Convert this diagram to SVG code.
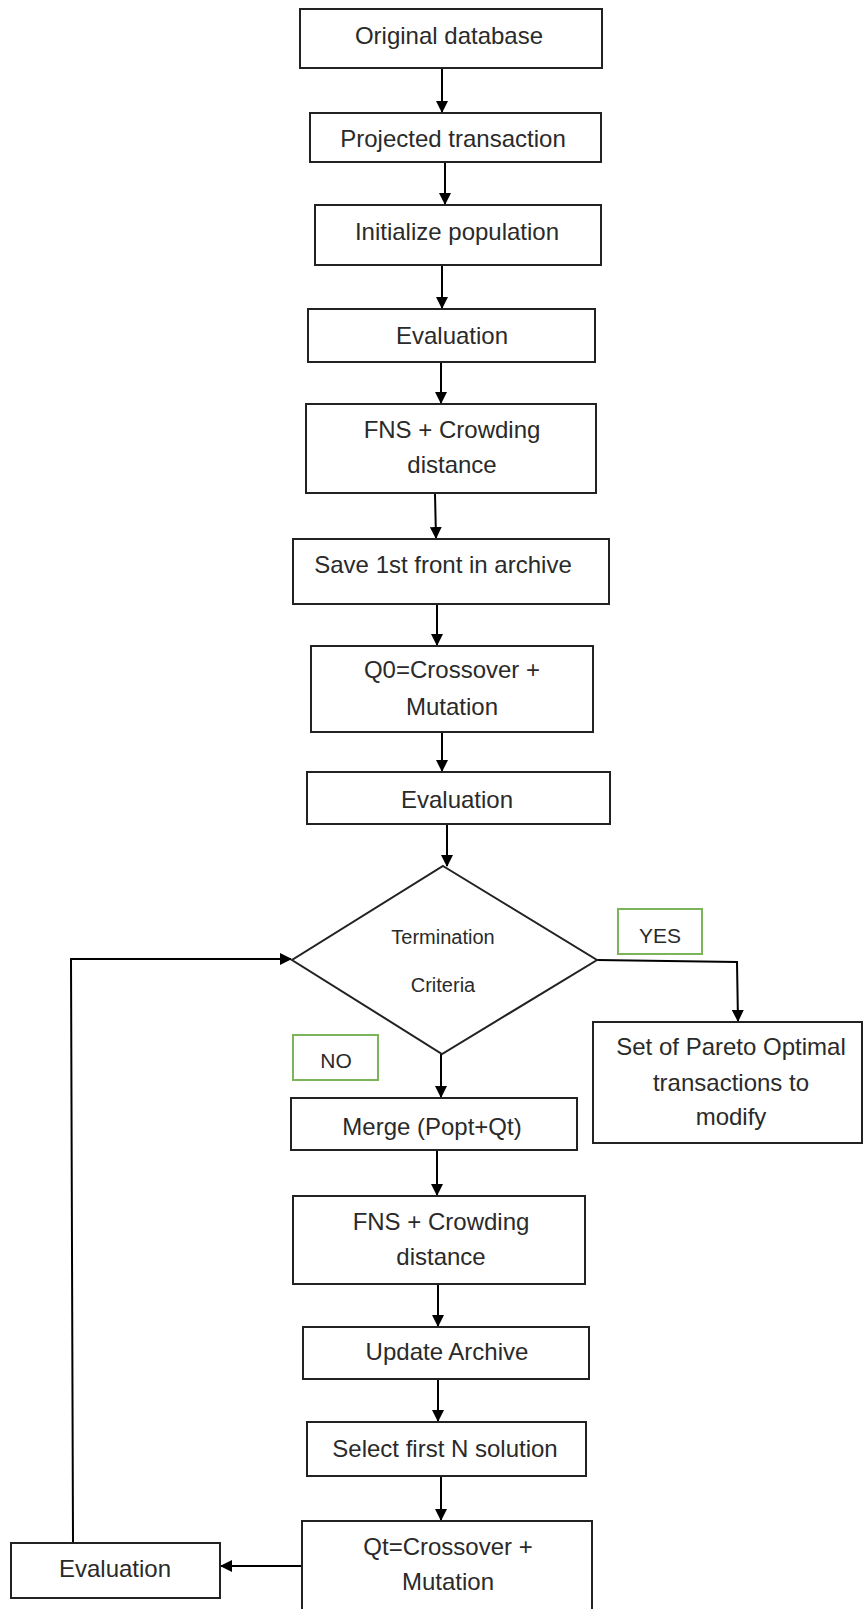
<svg xmlns="http://www.w3.org/2000/svg" width="863" height="1609" viewBox="0 0 863 1609">
<defs>
<style>
.box{fill:#fff;stroke:#222;stroke-width:2}
.lbl{fill:#fff;stroke:#7cb45c;stroke-width:2}
.t{font-family:"Liberation Sans",Arial,sans-serif;font-size:24px;fill:#2a2a2a;text-anchor:middle}
.s{font-size:20px}
.y{font-size:21px}
.c{fill:none;stroke:#000;stroke-width:2}
</style>
<marker id="ah" markerUnits="userSpaceOnUse" markerWidth="12" markerHeight="12" refX="11" refY="6" orient="auto">
<path d="M0,0 L12,6 L0,12 z" fill="#000"/>
</marker>
</defs>
<rect width="863" height="1609" fill="#fff"/>
<g id="connectors">
<path class="c" marker-end="url(#ah)" d="M442,69 L442,112"/>
<path class="c" marker-end="url(#ah)" d="M445,163 L445,204"/>
<path class="c" marker-end="url(#ah)" d="M442,266 L442,308"/>
<path class="c" marker-end="url(#ah)" d="M441,363 L441,403"/>
<path class="c" marker-end="url(#ah)" d="M435,494 L436,538"/>
<path class="c" marker-end="url(#ah)" d="M437,605 L437,645"/>
<path class="c" marker-end="url(#ah)" d="M442,733 L442,771"/>
<path class="c" marker-end="url(#ah)" d="M447,825 L447,866"/>
<path class="c" marker-end="url(#ah)" d="M441,1054 L441,1097"/>
<path class="c" marker-end="url(#ah)" d="M597,960 L737,962 L738,1021"/>
<path class="c" marker-end="url(#ah)" d="M437,1151 L437,1195"/>
<path class="c" marker-end="url(#ah)" d="M438,1285 L438,1326"/>
<path class="c" marker-end="url(#ah)" d="M438,1380 L438,1421"/>
<path class="c" marker-end="url(#ah)" d="M441,1477 L441,1520"/>
<path class="c" marker-end="url(#ah)" d="M301,1566 L221,1566"/>
<path class="c" marker-end="url(#ah)" d="M73,1543 L71,959 L291,959"/>
</g>
<g id="n1"><rect class="box" x="300" y="9" width="302" height="59"/><text class="t" x="449" y="44">Original database</text></g>
<g id="n2"><rect class="box" x="310" y="113" width="291" height="49"/><text class="t" x="453" y="147">Projected transaction</text></g>
<g id="n3"><rect class="box" x="315" y="205" width="286" height="60"/><text class="t" x="457" y="240">Initialize population</text></g>
<g id="n4"><rect class="box" x="308" y="309" width="287" height="53"/><text class="t" x="452" y="344">Evaluation</text></g>
<g id="n5"><rect class="box" x="306" y="404" width="290" height="89"/><text class="t" x="452" y="438">FNS + Crowding</text><text class="t" x="452" y="473">distance</text></g>
<g id="n6"><rect class="box" x="293" y="539" width="316" height="65"/><text class="t" x="443" y="573">Save 1st front in archive</text></g>
<g id="n7"><rect class="box" x="311" y="646" width="282" height="86"/><text class="t" x="452" y="678">Q0=Crossover +</text><text class="t" x="452" y="715">Mutation</text></g>
<g id="n8"><rect class="box" x="307" y="772" width="303" height="52"/><text class="t" x="457" y="808">Evaluation</text></g>
<g id="n9"><path class="box" d="M443,866 L597,960 L442,1054 L292,960 Z"/><text class="t s" x="443" y="944">Termination</text><text class="t s" x="443" y="992">Criteria</text></g>
<g id="yes"><rect class="lbl" x="618" y="909" width="84" height="45"/><text class="t y" x="660" y="943">YES</text></g>
<g id="no"><rect class="lbl" x="293" y="1035" width="85" height="45"/><text class="t y" x="336" y="1068">NO</text></g>
<g id="n10"><rect class="box" x="593" y="1022" width="269" height="121"/><text class="t" x="731" y="1055">Set of Pareto Optimal</text><text class="t" x="731" y="1091">transactions to</text><text class="t" x="731" y="1125">modify</text></g>
<g id="n11"><rect class="box" x="291" y="1098" width="286" height="52"/><text class="t" x="432" y="1135">Merge (Popt+Qt)</text></g>
<g id="n12"><rect class="box" x="293" y="1196" width="292" height="88"/><text class="t" x="441" y="1230">FNS + Crowding</text><text class="t" x="441" y="1265">distance</text></g>
<g id="n13"><rect class="box" x="303" y="1327" width="286" height="52"/><text class="t" x="447" y="1360">Update Archive</text></g>
<g id="n14"><rect class="box" x="307" y="1422" width="279" height="54"/><text class="t" x="445" y="1457">Select first N solution</text></g>
<g id="n15"><rect class="box" x="302" y="1521" width="290" height="100"/><text class="t" x="448" y="1555">Qt=Crossover +</text><text class="t" x="448" y="1590">Mutation</text></g>
<g id="n16"><rect class="box" x="11" y="1543" width="209" height="55"/><text class="t" x="115" y="1577">Evaluation</text></g>
</svg>
